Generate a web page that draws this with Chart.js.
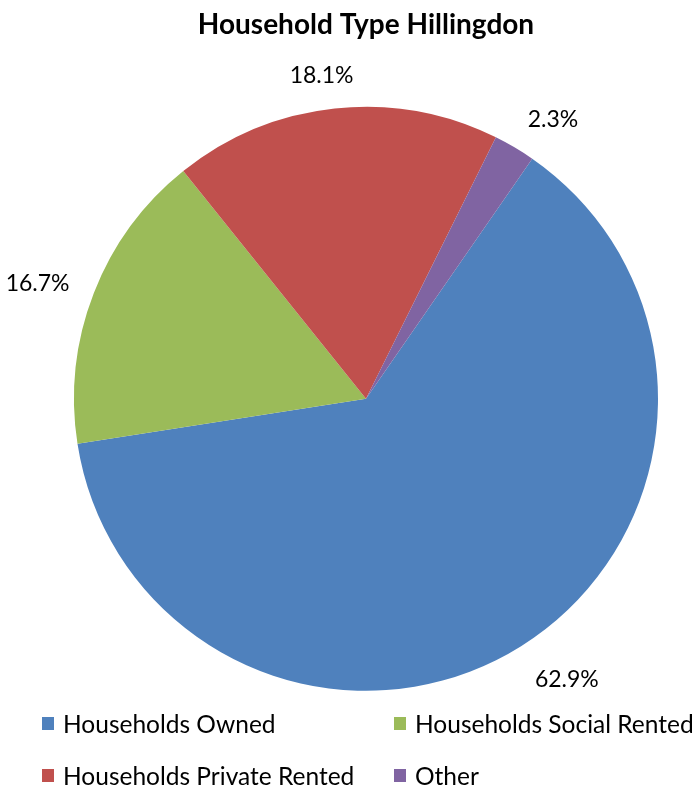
<!DOCTYPE html>
<html>
<head>
<meta charset="utf-8">
<script src="https://cdn.jsdelivr.net/npm/chart.js@4/dist/chart.umd.min.js"></script>
<style>
  html, body { margin: 0; padding: 0; background: #fff; }
  #wrap { position: relative; width: 699px; height: 789px; }
  #legend {
    position: absolute; left: 42px; top: 708px;
    display: grid; grid-template-columns: 352px auto; row-gap: 22px;
    font-family: Lato, "Open Sans", sans-serif; font-size: 24.5px; color: #000;
  }
  .item { display: flex; align-items: center; height: 30px; white-space: nowrap; }
  .box { width: 12px; height: 13px; margin-right: 9px; }
</style>
</head>
<body>
<div id="wrap">
  <canvas id="householdChart" width="699" height="789"></canvas>
  <div id="legend"></div>
</div>
<script>
const categories = ["Households Owned", "Households Social Rented", "Households Private Rented", "Other"];
const shares = [62.9, 16.7, 18.1, 2.3];
const colours = ["#4F81BD", "#9BBB59", "#C0504D", "#8064A2"];
const legendOrder = [0, 1, 2, 3];

// percent labels outside each slice (roughly like Excel's "best fit")
const outsideLabels = {
  id: "outsideLabels",
  afterDatasetsDraw(chart) {
    const ctx = chart.ctx;
    const meta = chart.getDatasetMeta(0);
    ctx.save();
    ctx.font = "23px Lato, 'Open Sans', sans-serif";
    ctx.fillStyle = "#000";
    ctx.textAlign = "center";
    ctx.textBaseline = "middle";
    meta.data.forEach((arc, i) => {
      const p = arc.getProps(["x", "y", "startAngle", "endAngle", "outerRadius"], true);
      const mid = (p.startAngle + p.endAngle) / 2;
      const txt = shares[i].toFixed(1) + "%";
      const w = ctx.measureText(txt).width;
      const h = 20;
      const c = Math.cos(mid), s = Math.sin(mid);
      const r = p.outerRadius + 26;
      const dx = (w / 2) * Math.max(-1, Math.min(1, c * 3));
      ctx.fillText(txt, p.x + c * r + dx, p.y + s * r + s * h / 2 + 3);
    });
    ctx.restore();
  }
};

new Chart(document.getElementById("householdChart"), {
  type: "pie",
  data: {
    labels: categories,
    datasets: [{
      data: shares,
      backgroundColor: colours,
      borderWidth: 0
    }]
  },
  options: {
    responsive: false,
    animation: false,
    rotation: 34.7,
    layout: { padding: { left: 74, right: 41, bottom: 98 } },
    plugins: {
      legend: { display: false },
      tooltip: { enabled: false },
      title: {
        display: true,
        text: "Household Type Hillingdon",
        color: "#000",
        font: { family: "Lato, 'Open Sans', sans-serif", size: 28, weight: "bold", lineHeight: 1.2 },
        padding: { top: 8, bottom: 65 }
      }
    }
  },
  plugins: [outsideLabels]
});

// legend in two columns, like the original
const legendEl = document.getElementById("legend");
legendEl.innerHTML = legendOrder.map(i =>
  `<div class="item"><span class="box" style="background:${colours[i]}"></span>${categories[i]}</div>`
).join("");
</script>
</body>
</html>
